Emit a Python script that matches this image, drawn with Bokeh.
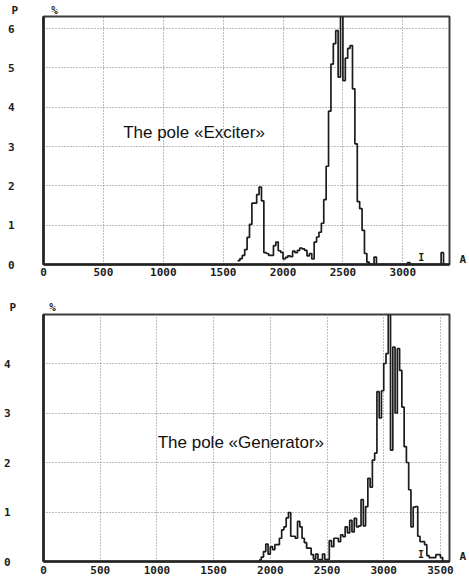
from bokeh.plotting import figure
from bokeh.layouts import column
from bokeh.models import FixedTicker, Label, ColumnDataSource, LinearAxis, Title
from bokeh.core.properties import value
from bokeh.embed import file_html
from bokeh.resources import INLINE

# ---- data -------------------------------------------------------------
BIN_WIDTH = 20  # A per histogram bin

# Pole "Exciter": probability P, %, per current bin starting at 1620 A
exciter_start = 1620
exciter_p = [
    0.10, 0.15, 0.23, 0.38, 0.69,
    1.02, 1.56, 1.56, 1.78, 1.97,
    1.62, 0.30, 0.28, 0.23, 0.23,
    0.48, 0.57, 0.35, 0.31, 0.14,
    0.18, 0.22, 0.20, 0.34, 0.30,
    0.36, 0.42, 0.40, 0.36, 0.22,
    0.28, 0.14, 0.57, 0.70, 0.82,
    1.05, 1.65, 2.50, 3.90, 5.10,
    5.62, 5.95, 4.77, 6.50, 4.68,
    5.25, 5.50, 5.57, 4.47, 3.07,
    1.60, 1.42, 0.87, 0.28, 0.06,
    0.00, 0.00, 0.19, 0.00, 0.00,
    0.00, 0.00, 0.00, 0.00, 0.00,
    0.00, 0.00, 0.00, 0.00, 0.00,
    0.00, 0.05, 0.00, 0.00, 0.00,
    0.00, 0.00, 0.00, 0.00, 0.00,
    0.00, 0.00, 0.00, 0.00, 0.00,
    0.30, 0.00,
]
exciter_cursor = [3155]
exciter_x_ticks = [0, 500, 1000, 1500, 2000, 2500, 3000]
exciter_p_ticks = [0, 1, 2, 3, 4, 5, 6]

# Pole "Generator": probability P, %, per current bin starting at 1900 A
generator_start = 1900
generator_p = [
    0.03, 0.09, 0.20, 0.35, 0.15,
    0.30, 0.24, 0.34, 0.34, 0.47,
    0.64, 0.70, 0.88, 0.99, 0.51,
    0.51, 0.47, 0.81, 0.70, 0.47,
    0.38, 0.27, 0.27, 0.14, 0.05,
    0.15, 0.04, 0.04, 0.15, 0.04,
    0.04, 0.42, 0.30, 0.47, 0.47,
    0.40, 0.54, 0.50, 0.70, 0.58,
    0.83, 0.60, 0.87, 0.70, 0.72,
    1.25, 0.72, 1.11, 1.68, 1.50,
    2.05, 2.19, 3.43, 2.90, 3.45,
    4.00, 4.20, 5.20, 2.25, 4.33,
    3.00, 4.30, 3.86, 3.12, 2.32,
    2.00, 1.45, 0.70, 1.10, 1.11,
    0.51, 0.40, 0.40, 0.34, 0.12,
    0.08, 0.08, 0.08, 0.14, 0.14,
    0.08, 0.00,
]
generator_cursor = [3328]
generator_x_ticks = [0, 500, 1000, 1500, 2000, 2500, 3000, 3500]
generator_p_ticks = [0, 1, 2, 3, 4]

# ---- styling ----------------------------------------------------------
MONO = "DejaVu Sans Mono"
SANS = "Liberation Sans"
INK = "#1c1c1c"
GRID = "#7a7a7a"
W = 469


def style_labels(ax, standoff):
    ax.axis_line_color = None
    ax.major_tick_line_color = None
    ax.minor_tick_line_color = None
    ax.major_label_text_font = MONO
    ax.major_label_text_font_style = "bold"
    ax.major_label_text_font_size = "11px"
    ax.major_label_text_color = INK
    ax.major_label_standoff = standoff


def make_panel(caption, start, probs, cursor, x_ticks, y_ticks, x_end, y_end,
               height, b_top, b_bottom, b_left, b_right, y_standoff,
               x_standoff, caption_px, name_standoff):
    p = figure(width=W, height=height, x_range=(0, x_end), y_range=(0, y_end),
               output_backend="svg", toolbar_location=None, title=None,
               min_border_top=b_top, min_border_bottom=b_bottom,
               min_border_left=b_left, min_border_right=b_right,
               background_fill_color="white", border_fill_color="white")

    fw = W - b_left - b_right
    fh = height - b_top - b_bottom

    def dx(px):  # frame pixel -> data x
        return px * x_end / fw

    def dy(py):  # pixels above frame bottom -> data y
        return py * y_end / fh

    p.outline_line_color = "#3c3c3c"
    p.outline_line_width = 2

    for ax in (p.xaxis[0], p.yaxis[0]):
        style_labels(ax, 0)
        ax.axis_line_color = "#222222"
        ax.axis_line_width = 2.6
    p.xaxis.ticker = FixedTicker(ticks=x_ticks)
    p.yaxis.ticker = FixedTicker(ticks=y_ticks)
    p.xaxis.major_label_standoff = x_standoff
    p.yaxis.major_label_standoff = y_standoff

    for g in (p.xgrid[0], p.ygrid[0]):
        g.grid_line_color = GRID
        g.grid_line_dash = "1 2"
        g.grid_line_width = 1

    # histogram as a step outline
    edges = [start + i * BIN_WIDTH for i in range(len(probs) + 1)]
    heights = list(probs) + [probs[-1]]
    p.step(x=edges, y=heights, mode="after", line_color=INK, line_width=1.7)

    # cursor marker on the current axis
    src = ColumnDataSource(dict(x=cursor, y=[dy(2)] * len(cursor),
                                t=["I"] * len(cursor)))
    p.text(x="x", y="y", text="t", source=src, text_font=value(MONO),
           text_font_style="bold", text_font_size="10px", text_color=INK,
           text_align="center", text_baseline="bottom")

    # unit of the current axis, right of the frame
    a_y = dy(5)
    unit_ax = LinearAxis(ticker=FixedTicker(ticks=[a_y]),
                         major_label_overrides={a_y: "A"})
    style_labels(unit_ax, 4)
    p.add_layout(unit_ax, "right")

    # names of the probability axis: P and %
    p.add_layout(Title(text="P\u00a0\u00a0\u00a0\u00a0\u00a0%", align="left",
                       offset=-b_left + 6, standoff=name_standoff,
                       text_font=MONO, text_font_style="bold",
                       text_font_size="11px", text_color=INK), "above")

    p.add_layout(Label(x=dx(caption_px[0]), y=dy(caption_px[1]), text=caption,
                       text_font=SANS, text_font_size="17px", text_color="#111111",
                       text_align="left", text_baseline="alphabetic"))
    return p


top = make_panel("The pole «Exciter»", exciter_start, exciter_p, exciter_cursor,
                 exciter_x_ticks, exciter_p_ticks, 3390, 6.31,
                 height=286, b_top=16, b_bottom=22, b_left=38, b_right=13,
                 y_standoff=23, x_standoff=-3, caption_px=(82, 132),
                 name_standoff=0)

bottom = make_panel("The pole «Generator»", generator_start, generator_p,
                    generator_cursor, generator_x_ticks, generator_p_ticks,
                    3580, 4.99,
                    height=290, b_top=28, b_bottom=14, b_left=40, b_right=13,
                    y_standoff=27, x_standoff=-2, caption_px=(117, 119),
                    name_standoff=2)

layout = column(top, bottom, spacing=0)
open("out.html", "w").write(file_html(layout, INLINE))
